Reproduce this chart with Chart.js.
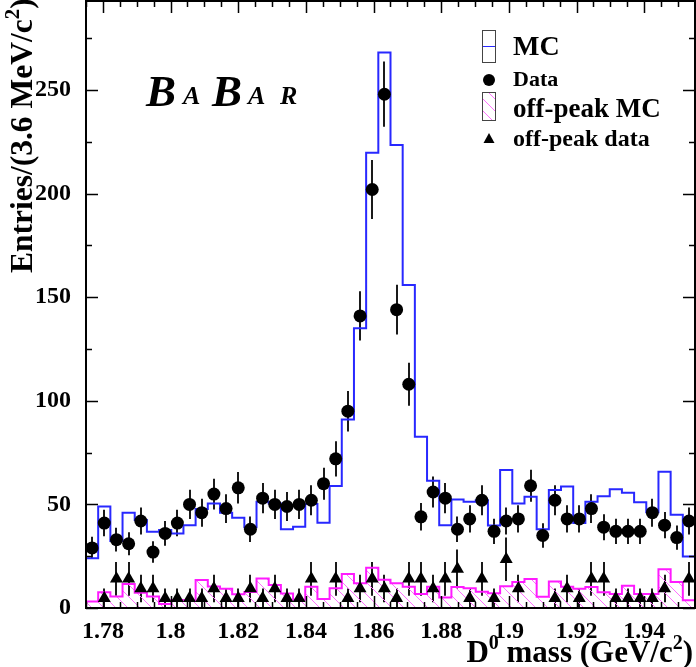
<!DOCTYPE html>
<html>
<head>
<meta charset="utf-8">
<style>
  html, body { margin: 0; padding: 0; background: #fff; }
  #wrap { width: 696px; height: 667px; }
</style>
<script src="https://cdn.jsdelivr.net/npm/chart.js@4.4.1/dist/chart.umd.min.js"></script>
</head>
<body>
<div id="wrap"><canvas id="d0mass" width="696" height="667"></canvas></div>
<script>
// D0 mass, 50 bins of 3.6 MeV between 1.775 and 1.955 GeV/c^2
const X_MIN = 1.775;
const X_MAX = 1.955;
const BIN_WIDTH = 0.0036;
const Y_MAX = 293;

const xTickLabels = [1.78, 1.8, 1.82, 1.84, 1.86, 1.88, 1.9, 1.92, 1.94];
const yTickLabels = [0, 50, 100, 150, 200, 250];

// signal MC (blue histogram)
const mcCounts = [24, 49, 32.3, 46, 42.5, 36.8, 37.6, 36, 40, 47.8,
    50.5, 46, 43.6, 39, 51.3, 50.5, 38, 39.2, 50.2, 41.2,
    58.9, 91, 135, 219.7, 268.2, 223.5, 155.9, 82.7, 61.4, 40,
    52.4, 51.3, 52, 39.8, 66.6, 50.5, 53.7, 38, 57, 58.7,
    41, 51.3, 54, 57.3, 55.6, 51, 46.2, 65.8, 45, 24.8];

// on-peak data
const dataCounts = [29, 41, 33, 31, 42, 27, 36, 41, 50, 46,
    55, 48, 58, 38, 53, 50, 49, 50, 52, 60,
    72, 95, 141, 202, 248, 144, 108, 44, 56, 53,
    38, 43, 52, 37, 42, 43, 59, 35, 52, 43,
    43, 48, 39, 37, 37, 37, 46, 40, 34, 42];

// off-peak MC (magenta hatched)
const offMcCounts = [3.1, 7.6, 5.5, 11.6, 7.4, 5.5, 1.9, 3.9, 3.6, 13.5,
    10.4, 9.3, 6.6, 7.7, 14.3, 11.1, 7, 4, 10.3, 4.3,
    9.5, 16.4, 11.9, 19.4, 13.6, 11.9, 10.2, 6.7, 10.3, 5.1,
    10.1, 9.5, 7.9, 7.1, 10.5, 12.5, 14, 5.4, 12.8, 10.3,
    9.3, 10.1, 7.6, 6.8, 10.8, 6.7, 6.7, 18.7, 12.5, 3.8];

// off-peak data, scaled (each event weighs about 4.7)
const OFF_WEIGHT = 4.7;
const offDataCounts = [0, 4.7, 14.1, 14.1, 9.4, 9.4, 4.7, 4.7, 4.7, 4.7,
    9.4, 4.7, 4.7, 9.4, 4.7, 9.4, 4.7, 4.7, 14.1, 0,
    14.1, 4.7, 9.4, 14.1, 9.4, 4.7, 14.1, 14.1, 9.4, 14.1,
    18.8, 4.7, 14.1, 4.7, 23.5, 9.4, 0, 0, 4.7, 9.4,
    4.7, 14.1, 14.1, 4.7, 4.7, 4.7, 4.7, 9.4, 0, 14.1];

const FONT = "'Liberation Serif', 'DejaVu Serif', serif";
const BLUE = '#2828ff';
const MAGENTA = '#ff1aff';

function binCenter(i) { return X_MIN + BIN_WIDTH * (i + 0.5); }

// histogram outline: points on the left bin edges, stepped 'before'
function histPoints(vals) {
    const pts = [{ x: X_MIN, y: 0 }];
    vals.forEach((v, i) => pts.push({ x: X_MIN + BIN_WIDTH * i, y: v }));
    pts.push({ x: X_MIN + BIN_WIDTH * vals.length, y: vals[vals.length - 1] });
    pts.push({ x: X_MIN + BIN_WIDTH * vals.length, y: 0 });
    return pts;
}

function hatch() {
    const c = document.createElement('canvas');
    c.width = 12; c.height = 12;
    const g = c.getContext('2d');
    g.strokeStyle = '#ff70ff';
    g.lineWidth = 1;
    g.beginPath();
    g.moveTo(-2, -2); g.lineTo(14, 14);
    g.moveTo(-2, 10); g.lineTo(2, 14);
    g.moveTo(10, -2); g.lineTo(14, 2);
    g.stroke();
    return g.createPattern(c, 'repeat');
}
const hatchFill = hatch();

const errorBars = {
    id: 'errorBars',
    beforeDatasetsDraw(chart) {
        const { ctx, chartArea, scales } = chart;
        ctx.save();
        ctx.beginPath();
        ctx.rect(chartArea.left, chartArea.top, chartArea.width, chartArea.height);
        ctx.clip();
        ctx.strokeStyle = '#1a1a1a';
        ctx.lineWidth = 2;
        chart.data.datasets.forEach(ds => {
            if (!ds.errors) return;
            ds.data.forEach((p, i) => {
                const e = ds.errors[i];
                if (!p.y || !e) return;
                const px = Math.round(scales.x.getPixelForValue(p.x));
                ctx.beginPath();
                ctx.moveTo(px, scales.y.getPixelForValue(p.y - e));
                ctx.lineTo(px, scales.y.getPixelForValue(p.y + e));
                ctx.stroke();
            });
        });
        ctx.restore();
    }
};

// text pieces with superscripts: [text, size, raise]
function drawPieces(ctx, pieces, x, y, align) {
    let total = 0;
    pieces.forEach(p => { ctx.font = 'bold ' + p[1] + 'px ' + FONT; total += ctx.measureText(p[0]).width; });
    let cx = align === 'right' ? x - total : x;
    pieces.forEach(p => {
        ctx.font = 'bold ' + p[1] + 'px ' + FONT;
        ctx.fillText(p[0], cx, y - (p[2] || 0));
        cx += ctx.measureText(p[0]).width;
    });
}

const frameAndText = {
    id: 'frameAndText',
    afterDraw(chart) {
        const { ctx, chartArea: a, scales } = chart;
        const { x, y } = scales;
        ctx.save();
        ctx.strokeStyle = '#000';
        ctx.fillStyle = '#000';

        // ticks on all four sides, pointing inwards
        ctx.lineWidth = 1.5;
        ctx.beginPath();
        for (let v = 1.775; v <= X_MAX + 1e-9; v += 0.005) {
            const major = xTickLabels.some(t => Math.abs(t - v) < 1e-6);
            const len = major ? 12 : 6;
            const px = Math.round(x.getPixelForValue(v)) + 0.5;
            ctx.moveTo(px, a.bottom); ctx.lineTo(px, a.bottom - len);
            ctx.moveTo(px, a.top); ctx.lineTo(px, a.top + len);
        }
        for (let v = 0; v <= Y_MAX; v += 25) {
            const len = v % 50 === 0 ? 12 : 6;
            const py = Math.round(y.getPixelForValue(v)) + 0.5;
            ctx.moveTo(a.left, py); ctx.lineTo(a.left + len, py);
            ctx.moveTo(a.right, py); ctx.lineTo(a.right - len, py);
        }
        ctx.stroke();

        ctx.lineWidth = 2;
        ctx.strokeRect(a.left, a.top, a.right - a.left, a.bottom - a.top);

        // axis titles
        ctx.textAlign = 'left';
        ctx.textBaseline = 'alphabetic';
        drawPieces(ctx, [['D', 31], ['0', 20, 13], [' mass (GeV/c', 31], ['2', 20, 13], [')', 31]], 693, 662, 'right');

        ctx.save();
        ctx.translate(32, 273);
        ctx.rotate(-Math.PI / 2);
        drawPieces(ctx, [['Entries/(3.6 MeV/c', 31.5], ['2', 21, 13], [')', 31.5]], 0, 0, 'left');
        ctx.restore();

        // BaBar logo
        ctx.font = 'italic bold 45px ' + FONT;
        ctx.fillText('B', 146, 106);
        ctx.fillText('B', 212, 106);
        ctx.font = 'italic bold 26px ' + FONT;
        ctx.fillText('A', 183, 104);
        ctx.fillText('A', 248, 104);
        ctx.fillText('R', 280, 104);

        // legend
        ctx.lineWidth = 1;
        ctx.strokeStyle = '#444';
        ctx.strokeRect(482.5, 30.5, 13, 32);
        ctx.strokeStyle = BLUE;
        ctx.beginPath(); ctx.moveTo(483, 46.5); ctx.lineTo(495, 46.5); ctx.stroke();
        ctx.beginPath(); ctx.arc(489, 80, 6, 0, Math.PI * 2); ctx.fill();
        ctx.fillStyle = hatchFill;
        ctx.fillRect(483, 93, 12, 27);
        ctx.strokeStyle = '#444';
        ctx.strokeRect(482.5, 92.5, 13, 28);
        ctx.fillStyle = '#000';
        ctx.beginPath(); ctx.moveTo(489, 133); ctx.lineTo(494.5, 143); ctx.lineTo(483.5, 143); ctx.closePath(); ctx.fill();

        ctx.font = 'bold 28px ' + FONT; ctx.fillText('MC', 513, 55);
        ctx.font = 'bold 22px ' + FONT; ctx.fillText('Data', 513, 86);
        ctx.font = 'bold 27px ' + FONT; ctx.fillText('off-peak MC', 513, 117);
        ctx.font = 'bold 24px ' + FONT; ctx.fillText('off-peak data', 513, 146);
        ctx.restore();
    }
};

function noPadding(s) {
    s.paddingTop = 0; s.paddingBottom = 0; s.paddingLeft = 0; s.paddingRight = 0;
}

new Chart(document.getElementById('d0mass'), {
    data: {
        datasets: [
            {
                type: 'scatter', label: 'off-peak data', order: 0,
                data: offDataCounts.map((v, i) => ({ x: binCenter(i), y: v })),
                errors: offDataCounts.map(v => Math.sqrt(OFF_WEIGHT * v)),
                pointStyle: 'triangle',
                pointRadius: c => (c.raw && c.raw.y > 0 ? 7.5 : 0),
                backgroundColor: '#000', borderColor: '#000', borderWidth: 0
            },
            {
                type: 'scatter', label: 'Data', order: 1,
                data: dataCounts.map((v, i) => ({ x: binCenter(i), y: v })),
                errors: dataCounts.map(v => Math.sqrt(v)),
                pointRadius: 6.5,
                backgroundColor: '#000', borderColor: '#000', borderWidth: 0
            },
            {
                type: 'line', label: 'off-peak MC', order: 2,
                data: histPoints(offMcCounts),
                stepped: 'before', pointRadius: 0, borderWidth: 2,
                borderColor: MAGENTA, backgroundColor: hatchFill, fill: 'origin'
            },
            {
                type: 'line', label: 'MC', order: 3,
                data: histPoints(mcCounts),
                stepped: 'before', pointRadius: 0, borderWidth: 2,
                borderColor: BLUE, fill: false
            }
        ]
    },
    options: {
        responsive: false,
        animation: false,
        devicePixelRatio: 1,
        layout: { autoPadding: false, padding: { top: 1, right: 1, left: 0, bottom: 0 } },
        plugins: { legend: { display: false }, tooltip: { enabled: false } },
        scales: {
            x: {
                type: 'linear', min: X_MIN, max: X_MAX,
                grid: { display: false, drawTicks: false },
                border: { display: false },
                afterBuildTicks: s => { s.ticks = xTickLabels.map(v => ({ value: v })); },
                afterFit: s => { s.height = 59; noPadding(s); },
                ticks: {
                    padding: 9, color: '#000', maxRotation: 0, autoSkip: false,
                    font: { family: FONT, size: 24, weight: 'bold' },
                    callback: v => String(+v.toFixed(2))
                }
            },
            y: {
                type: 'linear', min: 0, max: Y_MAX,
                grid: { display: false, drawTicks: false },
                border: { display: false },
                afterBuildTicks: s => { s.ticks = yTickLabels.map(v => ({ value: v })); },
                afterFit: s => { s.width = 86; noPadding(s); },
                ticks: {
                    padding: 15, color: '#000',
                    font: { family: FONT, size: 24, weight: 'bold' },
                    callback: v => String(v)
                }
            }
        }
    },
    plugins: [errorBars, frameAndText]
});
</script>
</body>
</html>
